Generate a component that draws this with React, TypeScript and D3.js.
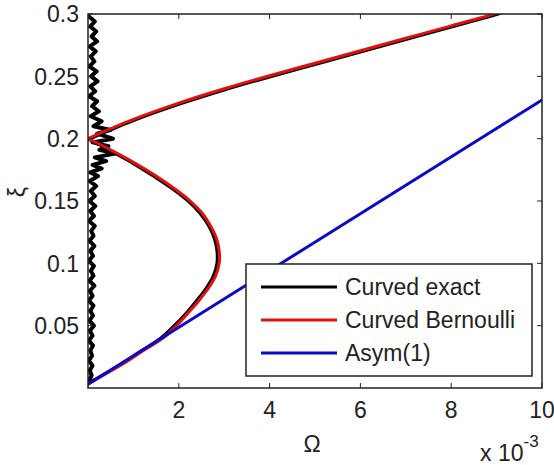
import React from "react";
import * as d3 from "d3";

// Tick values
const xTicks = [2, 4, 6, 8, 10];
const yTicks = [0.05, 0.1, 0.15, 0.2, 0.25, 0.3];
const yTickLabels = ["0.05", "0.1", "0.15", "0.2", "0.25", "0.3"];

// Legend entries
const legendNames = ["Curved exact", "Curved Bernoulli", "Asym(1)"];
const legendColors = ["#000000", "#e01010", "#0a0ac8"];

// Curved exact: noisy part near Ω≈0  [Ω (x1e-3), ξ]
const exactNoise: [number, number][] = [
  [0.02, 0.298], [0.15, 0.294], [0.05, 0.29], [0.18, 0.286], [0.08, 0.282], [0.2, 0.278],
  [0.04, 0.274], [0.17, 0.27], [0.06, 0.266], [0.14, 0.262], [0.03, 0.258], [0.19, 0.254],
  [0.07, 0.25], [0.21, 0.246], [0.05, 0.242], [0.16, 0.238], [0.02, 0.234], [0.2, 0.23],
  [0.09, 0.226], [0.24, 0.222], [0.06, 0.218], [0.3, 0.214], [0.12, 0.21], [0.5, 0.207],
  [0.2, 0.204], [0.55, 0.2], [0.1, 0.197], [0.45, 0.194], [0.25, 0.191], [0.6, 0.188],
  [0.15, 0.185], [0.4, 0.182], [0.1, 0.179], [0.3, 0.176], [0.05, 0.173], [0.22, 0.17],
  [0.04, 0.166], [0.18, 0.162], [0.06, 0.158], [0.15, 0.154], [0.03, 0.15], [0.16, 0.146],
  [0.05, 0.142], [0.13, 0.138], [0.02, 0.134], [0.15, 0.13], [0.07, 0.126], [0.12, 0.122],
  [0.03, 0.118], [0.14, 0.114], [0.05, 0.11], [0.11, 0.106], [0.02, 0.102], [0.13, 0.098],
  [0.06, 0.094], [0.12, 0.09], [0.03, 0.086], [0.14, 0.082], [0.04, 0.078], [0.1, 0.074],
  [0.02, 0.07], [0.12, 0.066], [0.05, 0.062], [0.11, 0.058], [0.03, 0.054], [0.13, 0.05],
  [0.04, 0.046], [0.1, 0.042], [0.02, 0.038], [0.11, 0.034], [0.05, 0.03], [0.09, 0.026],
  [0.02, 0.022], [0.1, 0.018], [0.04, 0.014], [0.08, 0.01], [0.02, 0.006],
];

// Curved exact: smooth branches
const exactUpper: [number, number][] = [
  [0, 0.199], [0.5, 0.207], [1, 0.2145], [2, 0.2275], [3, 0.239], [4, 0.2495],
  [5, 0.2595], [6, 0.2695], [7, 0.2795], [8, 0.2895], [9, 0.2995], [9.2, 0.302],
];
const exactLower: [number, number][] = [
  [0, 0.2], [0.5, 0.19], [1.0, 0.18], [1.44, 0.17], [1.85, 0.16], [2.2, 0.15], [2.47, 0.14],
  [2.66, 0.13], [2.78, 0.12], [2.84, 0.11], [2.84, 0.1], [2.76, 0.09], [2.6, 0.08],
  [2.39, 0.07], [2.16, 0.06], [1.9, 0.05], [1.6, 0.04], [1.18, 0.03], [0.76, 0.02],
  [0.3, 0.01], [0, 0.004],
];

// Curved Bernoulli
const bernUpper: [number, number][] = [
  [0, 0.2], [0.5, 0.208], [1, 0.2155], [2, 0.2285], [3, 0.24], [4, 0.2505],
  [5, 0.2605], [6, 0.2705], [7, 0.2805], [8, 0.2905], [8.9, 0.2995], [9.1, 0.302],
];
const bernLower: [number, number][] = [
  [0, 0.2], [0.55, 0.19], [1.05, 0.18], [1.5, 0.17], [1.9, 0.16], [2.25, 0.15], [2.52, 0.14],
  [2.7, 0.13], [2.83, 0.12], [2.89, 0.11], [2.89, 0.1], [2.81, 0.09], [2.65, 0.08],
  [2.44, 0.07], [2.2, 0.06], [1.95, 0.05], [1.65, 0.04], [1.22, 0.03], [0.8, 0.02],
  [0.33, 0.01], [0, 0.003],
];

// Asym(1)
const asym: [number, number][] = [
  [0, 0.003], [10, 0.231],
];

const W = 554;
const H = 465;
const left = 88;
const top = 14;
const right = 542;
const bottom = 388;
const font = "'Liberation Sans', Arial, sans-serif";

export default function App() {
  const x = d3.scaleLinear().domain([0, 10]).range([left, right]);
  const y = d3.scaleLinear().domain([0, 0.3]).range([bottom, top]);
  const lineLin = d3
    .line<[number, number]>()
    .x((d) => x(d[0]))
    .y((d) => y(d[1]));
  const lineCat = d3
    .line<[number, number]>()
    .x((d) => x(d[0]))
    .y((d) => y(d[1]))
    .curve(d3.curveCatmullRom);

  const tickLen = 5;
  const legX = 246;
  const legY = 264;
  const legW = 286;
  const legH = 112;
  const rowY = [287, 320, 353];

  return (
    <svg
      width={W}
      height={H}
      style={{ position: "absolute", left: 0, top: 0, background: "#fff" }}
    >
      <defs>
        <clipPath id="plotClip">
          <rect x={left} y={top} width={right - left} height={bottom - top} />
        </clipPath>
      </defs>
      <rect x={0} y={0} width={W} height={H} fill="#fff" />

      <g clipPath="url(#plotClip)" fill="none" strokeLinejoin="round" strokeLinecap="round">
        <path d={lineLin(exactNoise) || ""} stroke="#000" strokeWidth={4} />
        <path d={lineCat(exactUpper) || ""} stroke="#000" strokeWidth={3} />
        <path d={lineCat(exactLower) || ""} stroke="#000" strokeWidth={3} />
        <path d={lineCat(bernUpper) || ""} stroke={legendColors[1]} strokeWidth={3} />
        <path d={lineCat(bernLower) || ""} stroke={legendColors[1]} strokeWidth={3} />
        <path d={lineLin(asym) || ""} stroke={legendColors[2]} strokeWidth={3} />
      </g>

      {/* axes box */}
      <rect
        x={left}
        y={top}
        width={right - left}
        height={bottom - top}
        fill="none"
        stroke="#222"
        strokeWidth={1.5}
      />

      {/* x ticks */}
      {xTicks.map((t) => (
        <g key={"xt" + t}>
          <line x1={x(t)} x2={x(t)} y1={bottom} y2={bottom - tickLen} stroke="#222" />
          <line x1={x(t)} x2={x(t)} y1={top} y2={top + tickLen} stroke="#222" />
          <text
            x={x(t)}
            y={418}
            textAnchor="middle"
            fontFamily={font}
            fontSize={23}
            fill="#222"
          >
            {t}
          </text>
        </g>
      ))}

      {/* y ticks */}
      {yTicks.map((t, i) => (
        <g key={"yt" + t}>
          <line x1={left} x2={left + tickLen} y1={y(t)} y2={y(t)} stroke="#222" />
          <line x1={right} x2={right - tickLen} y1={y(t)} y2={y(t)} stroke="#222" />
          <text
            x={79}
            y={y(t)}
            dy="0.36em"
            textAnchor="end"
            fontFamily={font}
            fontSize={23}
            fill="#222"
          >
            {yTickLabels[i]}
          </text>
        </g>
      ))}

      {/* axis labels */}
      <text x={312} y={452} textAnchor="middle" fontFamily={font} fontSize={23} fill="#222">
        Ω
      </text>
      <text
        x={0}
        y={0}
        transform="translate(25,192) rotate(-90)"
        textAnchor="middle"
        fontFamily={font}
        fontSize={23}
        fill="#222"
      >
        ξ
      </text>
      <text x={480} y={461} fontFamily={font} fontSize={23} fill="#222">
        x 10
        <tspan dy={-14} fontSize={17}>
          -3
        </tspan>
      </text>

      {/* legend */}
      <rect x={legX} y={legY} width={legW} height={legH} fill="#fff" stroke="#222" strokeWidth={1.5} />
      {legendNames.map((n, i) => (
        <g key={n}>
          <line x1={261} x2={337} y1={rowY[i]} y2={rowY[i]} stroke={legendColors[i]} strokeWidth={3} />
          <text x={345} y={rowY[i]} dy="0.36em" fontFamily={font} fontSize={23} fill="#222">
            {n}
          </text>
        </g>
      ))}
    </svg>
  );
}
